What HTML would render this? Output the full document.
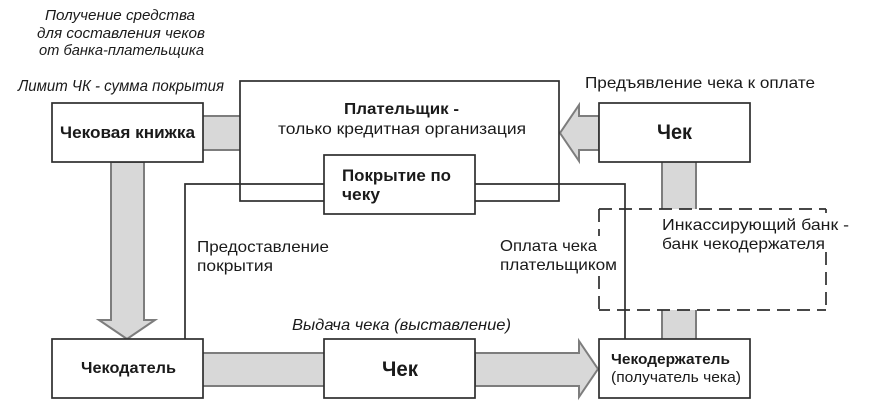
<!DOCTYPE html>
<html><head><meta charset="utf-8">
<style>
html,body{margin:0;padding:0;background:#fff;width:884px;height:417px;overflow:hidden}
svg{display:block}
text{font-family:"Liberation Sans","DejaVu Sans",sans-serif;fill:#1a1a1a;font-size:16px}
.b{font-weight:bold}
.i{font-style:italic}
.g{fill:#d8d8d8;stroke:none}
.e{stroke:#7d7d7d;stroke-width:2;fill:none}
.k{fill:#fff;stroke:#2e2e2e;stroke-width:1.7}
.l{fill:none;stroke:#2e2e2e;stroke-width:1.7}
.d{fill:none;stroke:#2e2e2e;stroke-width:1.7;stroke-dasharray:13 7}
</style></head>
<body>
<svg width="884" height="417" viewBox="0 0 884 417" xmlns="http://www.w3.org/2000/svg">
<!-- gray connectors -->
<rect class="g" x="203" y="116" width="37" height="34"/>
<path class="e" d="M203 116H240M203 150H240"/>
<polygon points="111,162 144,162 144,320 155,320 127,339 99,320 111,320" fill="#d8d8d8" stroke="#7d7d7d" stroke-width="2"/>
<rect class="g" x="203" y="353" width="121" height="33"/>
<path class="e" d="M203 353H324M203 386H324"/>
<polygon points="475,353 579,353 579,341 598,369 579,397 579,386 475,386" fill="#d8d8d8" stroke="#7d7d7d" stroke-width="2"/>
<polygon points="599,116 579,116 579,105 560,133 579,161 579,150 599,150" fill="#d8d8d8" stroke="#7d7d7d" stroke-width="2"/>
<rect class="g" x="662" y="162" width="34" height="47"/>
<path class="e" d="M662 162V209M696 162V209"/>
<rect class="g" x="662" y="310" width="34" height="29"/>
<path class="e" d="M662 310V339M696 310V339"/>

<!-- dashed box -->
<path class="d" d="M599 209H826"/>
<path class="d" d="M599 310H826" stroke-dashoffset="2"/>
<path class="l" stroke-dasharray="13 7" d="M599 209V236"/>
<path class="l" stroke-dasharray="13 7" d="M599 276V310"/>
<path class="l" stroke-dasharray="13 7" d="M826 252V306"/>
<path class="l" d="M826 209V213"/>

<!-- boxes -->
<rect class="k" x="240" y="81" width="319" height="120"/>
<path class="l" d="M324 184H185V339M475 184H625V339"/>
<rect class="k" x="324" y="155" width="151" height="59"/>
<rect class="k" x="52" y="103" width="151" height="59"/>
<rect class="k" x="599" y="103" width="151" height="59"/>
<rect class="k" x="52" y="339" width="151" height="59"/>
<rect class="k" x="324" y="339" width="151" height="59"/>
<rect class="k" x="599" y="339" width="151" height="59"/>

<!-- labels -->
<text class="i" x="45" y="20" textLength="150" lengthAdjust="spacingAndGlyphs" style="font-size:15px">Получение средства</text>
<text class="i" x="37" y="38" textLength="168" lengthAdjust="spacingAndGlyphs" style="font-size:15px">для составления чеков</text>
<text class="i" x="39" y="55" textLength="165" lengthAdjust="spacingAndGlyphs" style="font-size:15px">от банка-плательщика</text>
<text class="i" x="18" y="91" textLength="206" lengthAdjust="spacingAndGlyphs">Лимит ЧК - сумма покрытия</text>
<text class="b" x="60" y="138" textLength="135" lengthAdjust="spacingAndGlyphs" style="font-size:17px">Чековая книжка</text>
<text class="b" x="344" y="114" textLength="115" lengthAdjust="spacingAndGlyphs">Плательщик -</text>
<text x="278" y="134" textLength="248" lengthAdjust="spacingAndGlyphs">только кредитная организация</text>
<text class="b" x="342" y="181" textLength="109" lengthAdjust="spacingAndGlyphs" style="font-size:17px">Покрытие по</text>
<text class="b" x="342" y="200" textLength="38" lengthAdjust="spacingAndGlyphs" style="font-size:17px">чеку</text>
<text x="585" y="88" textLength="230" lengthAdjust="spacingAndGlyphs">Предъявление чека к оплате</text>
<text class="b" x="657" y="139" textLength="35" lengthAdjust="spacingAndGlyphs" style="font-size:21px">Чек</text>
<text x="197" y="252" textLength="132" lengthAdjust="spacingAndGlyphs">Предоставление</text>
<text x="197" y="271" textLength="76" lengthAdjust="spacingAndGlyphs">покрытия</text>
<text x="500" y="251" textLength="97" lengthAdjust="spacingAndGlyphs">Оплата чека</text>
<text x="500" y="270" textLength="117" lengthAdjust="spacingAndGlyphs">плательщиком</text>
<text x="662" y="230" textLength="187" lengthAdjust="spacingAndGlyphs">Инкассирующий банк -</text>
<text x="662" y="249" textLength="163" lengthAdjust="spacingAndGlyphs">банк чекодержателя</text>
<text class="i" x="292" y="330" textLength="219" lengthAdjust="spacingAndGlyphs">Выдача чека (выставление)</text>
<text class="b" x="81" y="373" textLength="95" lengthAdjust="spacingAndGlyphs">Чекодатель</text>
<text class="b" x="382" y="376" textLength="36" lengthAdjust="spacingAndGlyphs" style="font-size:21px">Чек</text>
<text class="b" x="611" y="364" textLength="119" lengthAdjust="spacingAndGlyphs" style="font-size:15px">Чекодержатель</text>
<text x="611" y="382" textLength="130" lengthAdjust="spacingAndGlyphs" style="font-size:15px">(получатель чека)</text>
</svg>
</body></html>
